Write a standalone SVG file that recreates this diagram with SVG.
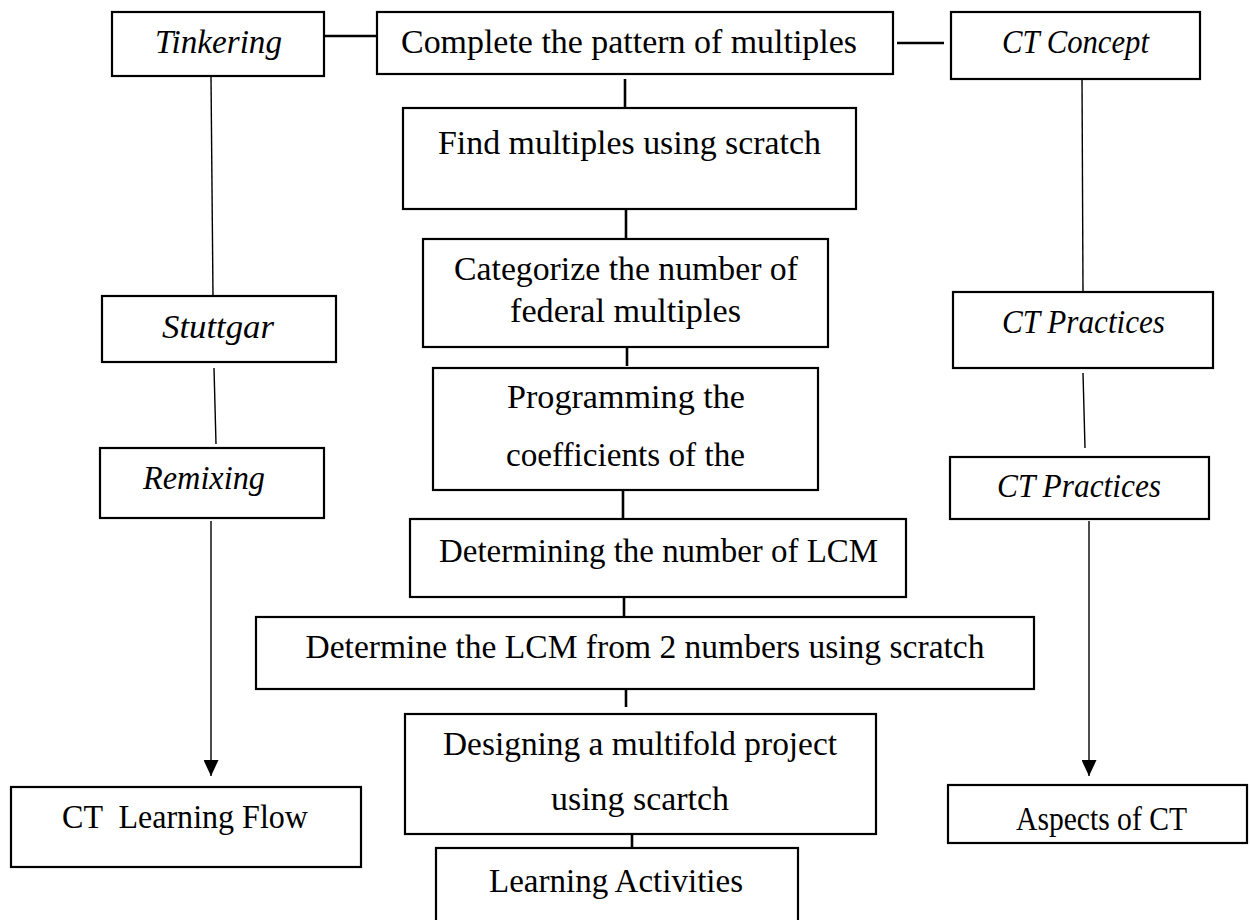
<svg xmlns="http://www.w3.org/2000/svg" width="1250" height="920" viewBox="0 0 1250 920">
<style>
.box{fill:#fff;stroke:#000;stroke-width:2.2}
.t{font-family:"Liberation Serif","Times New Roman",serif;font-size:34px;fill:#000;text-anchor:middle;white-space:pre}
.i{font-style:italic}
.thick{stroke:#000;stroke-width:2.6;fill:none}
.thin{stroke:#000;stroke-width:1.4;fill:none}
</style>
<defs>
<marker id="arr" viewBox="0 0 16 15" refX="16" refY="7.5" markerWidth="16" markerHeight="15" markerUnits="userSpaceOnUse" orient="auto">
<path d="M0,0 L16,7.5 L0,15 Z" fill="#000"/>
</marker>
</defs>
<rect width="1250" height="920" fill="#fff"/>
<g id="connectors">
<line class="thick" x1="324" y1="36" x2="377" y2="36"/>
<line class="thick" x1="897" y1="43" x2="944" y2="43"/>
<line class="thin" x1="211" y1="77" x2="213" y2="296"/>
<line class="thin" x1="214" y1="368" x2="216" y2="444"/>
<line class="thin" x1="211" y1="521" x2="211" y2="776" marker-end="url(#arr)"/>
<line class="thin" x1="1082" y1="76" x2="1083" y2="292"/>
<line class="thin" x1="1083" y1="373" x2="1085" y2="448"/>
<line class="thin" x1="1089" y1="521" x2="1089" y2="776" marker-end="url(#arr)"/>
<line class="thick" x1="625" y1="79" x2="625" y2="108"/>
<line class="thick" x1="626" y1="209" x2="626" y2="239"/>
<line class="thick" x1="627" y1="347" x2="627" y2="366"/>
<line class="thick" x1="623" y1="490" x2="623" y2="519"/>
<line class="thick" x1="624" y1="597" x2="624" y2="617"/>
<line class="thick" x1="626" y1="689" x2="626" y2="707"/>
<line class="thick" x1="632" y1="834" x2="632" y2="848"/>
</g>
<g id="tinkering"><rect class="box" x="112" y="12" width="212" height="64"/><text class="t i" x="218.5" y="53" textLength="127" lengthAdjust="spacingAndGlyphs">Tinkering</text></g>
<g id="complete"><rect class="box" x="377" y="12" width="516" height="62"/><text class="t" x="629" y="53" textLength="456" lengthAdjust="spacingAndGlyphs">Complete the pattern of multiples</text></g>
<g id="ct-concept"><rect class="box" x="951" y="12" width="249" height="67"/><text class="t i" x="1075.5" y="53" textLength="147" lengthAdjust="spacingAndGlyphs">CT Concept</text></g>
<g id="find"><rect class="box" x="403" y="108" width="453" height="101"/><text class="t" x="629.5" y="154" textLength="383" lengthAdjust="spacingAndGlyphs">Find multiples using scratch</text></g>
<g id="categorize"><rect class="box" x="423" y="239" width="405" height="108"/><text class="t" x="626" y="280" textLength="344" lengthAdjust="spacingAndGlyphs">Categorize the number of</text><text class="t" x="625.5" y="322" textLength="231" lengthAdjust="spacingAndGlyphs">federal multiples</text></g>
<g id="stuttgar"><rect class="box" x="102" y="296" width="234" height="66"/><text class="t i" x="218" y="338" textLength="112" lengthAdjust="spacingAndGlyphs">Stuttgar</text></g>
<g id="ct-practices-1"><rect class="box" x="953" y="292" width="260" height="76"/><text class="t i" x="1083.5" y="333" textLength="163" lengthAdjust="spacingAndGlyphs">CT Practices</text></g>
<g id="programming"><rect class="box" x="433" y="368" width="385" height="122"/><text class="t" x="626" y="408" textLength="238" lengthAdjust="spacingAndGlyphs">Programming the</text><text class="t" x="625.5" y="466" textLength="239" lengthAdjust="spacingAndGlyphs">coefficients of the</text></g>
<g id="remixing"><rect class="box" x="100" y="448" width="224" height="70"/><text class="t i" x="204" y="489" textLength="122" lengthAdjust="spacingAndGlyphs">Remixing</text></g>
<g id="ct-practices-2"><rect class="box" x="950" y="457" width="259" height="62"/><text class="t i" x="1079" y="497" textLength="164" lengthAdjust="spacingAndGlyphs">CT Practices</text></g>
<g id="determining"><rect class="box" x="410" y="519" width="496" height="78"/><text class="t" x="658.5" y="562" textLength="439" lengthAdjust="spacingAndGlyphs">Determining the number of LCM</text></g>
<g id="determine-lcm"><rect class="box" x="256" y="617" width="778" height="72"/><text class="t" x="645" y="658" textLength="679" lengthAdjust="spacingAndGlyphs">Determine the LCM from 2 numbers using scratch</text></g>
<g id="designing"><rect class="box" x="405" y="714" width="471" height="120"/><text class="t" x="640" y="755" textLength="394" lengthAdjust="spacingAndGlyphs">Designing a multifold project</text><text class="t" x="640" y="810" textLength="178" lengthAdjust="spacingAndGlyphs">using scartch</text></g>
<g id="ct-learning-flow"><rect class="box" x="11" y="787" width="350" height="80"/><text class="t" x="185" y="828" textLength="246" lengthAdjust="spacingAndGlyphs">CT  Learning Flow</text></g>
<g id="aspects"><rect class="box" x="948" y="785" width="299" height="58"/><text class="t" x="1101.5" y="830" textLength="171" lengthAdjust="spacingAndGlyphs">Aspects of CT</text></g>
<g id="learning-activities"><rect class="box" x="436" y="848" width="362" height="90"/><text class="t" x="616" y="892" textLength="254" lengthAdjust="spacingAndGlyphs">Learning Activities</text></g>
</svg>
